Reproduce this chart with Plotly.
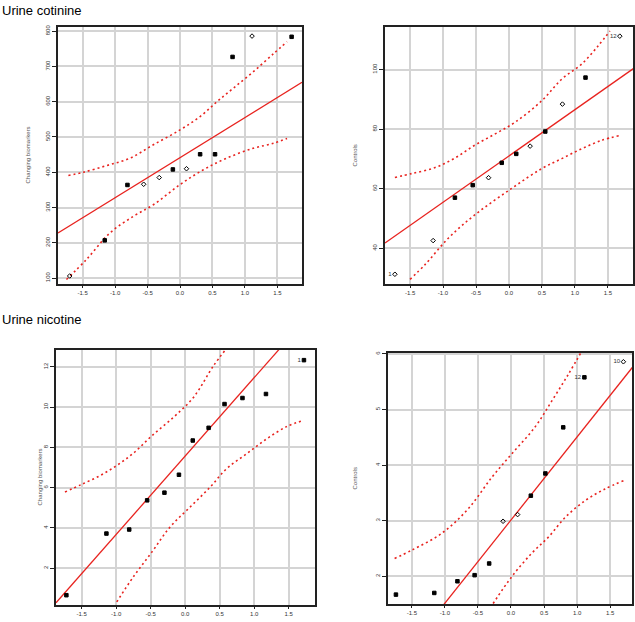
import plotly.graph_objects as go

# ---------------- data ----------------
# Panel 1: Urine cotinine (cases)
p1_q = [-1.70, -1.16, -0.81, -0.56, -0.32, -0.11, 0.10, 0.31, 0.54, 0.81, 1.11, 1.72]
p1_v = [106, 207, 364, 366, 385, 408, 410, 451, 451, 727, 786, 784]
p1_line_q = [-1.88, 1.88]
p1_line_v = [228, 655]
p1_up_q = [-1.72, -1.49, -1.13, -0.77, -0.41, 0.00, 0.31, 0.57, 0.82, 1.13, 1.44, 1.65]
p1_up_v = [391, 400, 419, 440, 478, 520, 558, 600, 638, 685, 736, 770]
p1_lo_q = [-1.75, -1.44, -1.08, -0.72, -0.41, 0.00, 0.36, 0.72, 1.13, 1.44, 1.65]
p1_lo_v = [96, 153, 228, 275, 308, 365, 407, 440, 468, 482, 496]
p1_ticks = [100, 200, 300, 400, 500, 600, 700, 800]

# Panel 2: Urine cotinine (controls)
p2_q = [-1.73, -1.15, -0.82, -0.55, -0.31, -0.11, 0.11, 0.32, 0.55, 0.81, 1.16, 1.68]
p2_v = [31.3, 42.6, 57.0, 61.2, 63.7, 68.7, 71.7, 74.3, 79.2, 88.4, 97.3, 111.2]
p2_line_q = [-1.88, 1.91]
p2_line_v = [41.8, 100.7]
p2_up_q = [-1.73, -1.47, -1.12, -0.82, -0.52, -0.21, 0.09, 0.50, 0.80, 1.10, 1.35, 1.53]
p2_up_v = [63.8, 65.1, 67.1, 70.3, 74.6, 78.4, 82.3, 89.6, 96.8, 101.8, 107.9, 112.9]
p2_lo_q = [-1.50, -1.27, -0.92, -0.52, 0.04, 0.50, 0.80, 1.10, 1.40, 1.68]
p2_lo_v = [29.6, 34.6, 43.4, 51.2, 60.1, 66.8, 70.1, 73.4, 76.2, 77.9]
p2_ticks = [40, 60, 80, 100]

# Panel 3: Urine nicotine (cases)
p3_q = [-1.72, -1.14, -0.81, -0.55, -0.30, -0.09, 0.11, 0.34, 0.57, 0.83, 1.17, 1.72]
p3_v = [0.66, 3.72, 3.92, 5.37, 5.75, 6.64, 8.34, 8.97, 10.15, 10.45, 10.65, 12.33]
p3_line_q = [-1.87, 1.60]
p3_line_v = [0.28, 13.80]
p3_up_q = [-1.74, -1.50, -1.23, -0.99, -0.75, -0.48, -0.17, 0.12, 0.41, 0.58]
p3_up_v = [5.78, 6.16, 6.60, 7.10, 7.71, 8.58, 9.49, 10.48, 12.05, 12.83]
p3_lo_q = [-0.99, -0.75, -0.48, -0.22, 0.07, 0.36, 0.60, 0.89, 1.18, 1.47, 1.71]
p3_lo_v = [0.33, 1.57, 2.81, 4.04, 5.03, 6.02, 6.94, 7.68, 8.42, 9.03, 9.33]
p3_ticks = [2, 4, 6, 8, 10, 12]

# Panel 4: Urine nicotine (controls)
p4_q = [-1.74, -1.16, -0.81, -0.55, -0.33, -0.12, 0.10, 0.30, 0.52, 0.79, 1.11, 1.70]
p4_v = [1.67, 1.70, 1.91, 2.02, 2.23, 2.99, 3.11, 3.45, 3.85, 4.68, 5.58, 5.86]
p4_line_q = [-1.05, 1.85]
p4_line_v = [1.44, 5.78]
p4_up_q = [-1.76, -1.50, -1.05, -0.65, -0.29, 0.01, 0.36, 0.62, 0.87, 1.07]
p4_up_v = [2.32, 2.47, 2.77, 3.21, 3.78, 4.20, 4.68, 5.16, 5.64, 6.05]
p4_lo_q = [-0.27, 0.01, 0.31, 0.57, 0.82, 1.12, 1.42, 1.70]
p4_lo_v = [1.51, 1.99, 2.41, 2.71, 3.06, 3.36, 3.57, 3.72]
p4_ticks = [2, 3, 4, 5, 6]

qq_ticks = [-1.5, -1.0, -0.5, 0.0, 0.5, 1.0, 1.5]
qq_tick_text = ["-1.5", "-1.0", "-0.5", "0.0", "0.5", "1.0", "1.5"]

# ---------------- figure ----------------
W, H = 635, 622
RED = "#e8231f"

def dx(a, b):
    return [a / W, b / W]

def dy(top, bottom):
    return [1 - bottom / H, 1 - top / H]

panels = [
    dict(q=p1_q, v=p1_v, lq=p1_line_q, lv=p1_line_v, uq=p1_up_q, uv=p1_up_v,
         oq=p1_lo_q, ov=p1_lo_v, ticks=p1_ticks, xr=[-1.88, 1.88], yr=[83, 812],
         xd=dx(58, 302), yd=dy(25, 283),
         sym=["diamond-open", "square", "square", "diamond-open", "diamond-open", "square",
              "diamond-open", "square", "square", "square", "diamond-open", "square"],
         txt=[""] * 12, ylab="Changing biomarkers", ylab_x=28),
    dict(q=p2_q, v=p2_v, lq=p2_line_q, lv=p2_line_v, uq=p2_up_q, uv=p2_up_v,
         oq=p2_lo_q, ov=p2_lo_v, ticks=p2_ticks, xr=[-1.88, 1.88], yr=[28, 114.3],
         xd=dx(385, 633), yd=dy(25, 283),
         sym=["diamond-open", "diamond-open", "square", "square", "diamond-open", "square",
              "square", "diamond-open", "square", "diamond-open", "square", "diamond-open"],
         txt=["1"] + [""] * 10 + ["12"], ylab="Controls", ylab_x=355),
    dict(q=p3_q, v=p3_v, lq=p3_line_q, lv=p3_line_v, uq=p3_up_q, uv=p3_up_v,
         oq=p3_lo_q, ov=p3_lo_v, ticks=p3_ticks, xr=[-1.87, 1.88], yr=[0.17, 12.84],
         xd=dx(56, 315), yd=dy(349, 605),
         sym=["square"] * 12,
         txt=[""] * 11 + ["1"], ylab="Changing biomarkers", ylab_x=40),
    dict(q=p4_q, v=p4_v, lq=p4_line_q, lv=p4_line_v, uq=p4_up_q, uv=p4_up_v,
         oq=p4_lo_q, ov=p4_lo_v, ticks=p4_ticks, xr=[-1.86, 1.83], yr=[1.50, 6.02],
         xd=dx(388, 632), yd=dy(352, 604),
         sym=["square", "square", "square", "square", "square", "diamond-open",
              "diamond-open", "square", "square", "square", "square", "diamond-open"],
         txt=[""] * 10 + ["12", "10"], ylab="Controls", ylab_x=355),
]

fig = go.Figure()
layout = dict(width=W, height=H, margin=dict(l=0, r=0, t=0, b=0),
              paper_bgcolor="white", plot_bgcolor="white", showlegend=False,
              font=dict(family="Liberation Sans, Arial, sans-serif", color="black"))
annotations = []

for i, p in enumerate(panels, start=1):
    xa = "x" if i == 1 else f"x{i}"
    ya = "y" if i == 1 else f"y{i}"
    common = dict(xaxis=xa, yaxis=ya, hoverinfo="skip")
    # fitted line
    fig.add_trace(go.Scatter(x=p["lq"], y=p["lv"], mode="lines",
                             line=dict(color=RED, width=1.3), **common))
    # envelopes
    fig.add_trace(go.Scatter(x=p["uq"], y=p["uv"], mode="lines",
                             line=dict(color=RED, width=1.6, dash="2px,3px", shape="spline"), **common))
    fig.add_trace(go.Scatter(x=p["oq"], y=p["ov"], mode="lines",
                             line=dict(color=RED, width=1.6, dash="2px,3px", shape="spline"), **common))
    # points
    fig.add_trace(go.Scatter(x=p["q"], y=p["v"], mode="markers+text",
                             marker=dict(color="black", size=3.5, symbol=p["sym"],
                                         line=dict(color="black", width=1)),
                             text=p["txt"], textposition="middle left",
                             textfont=dict(size=6, color="#333"), cliponaxis=False, **common))

    xkey = "xaxis" if i == 1 else f"xaxis{i}"
    ykey = "yaxis" if i == 1 else f"yaxis{i}"
    layout[xkey] = dict(domain=p["xd"], range=p["xr"], anchor=ya,
                        tickvals=qq_ticks, ticktext=qq_tick_text,
                        tickfont=dict(size=6, color="#333"),
                        showgrid=True, gridcolor="#d4d4d4", gridwidth=1.5,
                        zeroline=False, showline=True, linecolor="#222", linewidth=1.5,
                        mirror=True, ticks="outside", ticklen=2, tickcolor="#222")
    layout[ykey] = dict(domain=p["yd"], range=p["yr"], anchor=xa,
                        tickvals=p["ticks"], ticktext=[str(t) for t in p["ticks"]],
                        tickangle=-90, tickfont=dict(size=6, color="#333"),
                        showgrid=True, gridcolor="#d4d4d4", gridwidth=1.5,
                        zeroline=False, showline=True, linecolor="#222", linewidth=1.5,
                        mirror=True, ticks="outside", ticklen=4, tickcolor="#222")
    ymid = (p["yd"][0] + p["yd"][1]) / 2
    annotations.append(dict(text=p["ylab"], x=p["ylab_x"] / W, y=ymid, xref="paper", yref="paper",
                            textangle=-90, showarrow=False, font=dict(size=6, color="#555"),
                            xanchor="center", yanchor="middle"))

annotations.append(dict(text="Urine cotinine", x=0, y=1 - 9 / H, xref="paper", yref="paper",
                        showarrow=False, xanchor="left", yanchor="middle",
                        font=dict(size=13, color="black")))
annotations.append(dict(text="Urine nicotine", x=0, y=1 - 319 / H, xref="paper", yref="paper",
                        showarrow=False, xanchor="left", yanchor="middle",
                        font=dict(size=13, color="black")))
layout["annotations"] = annotations
fig.update_layout(**layout)
fig.write_html("out.html", config={"displayModeBar": False},
               post_script="document.body.style.margin='0';document.body.style.overflow='hidden';")
